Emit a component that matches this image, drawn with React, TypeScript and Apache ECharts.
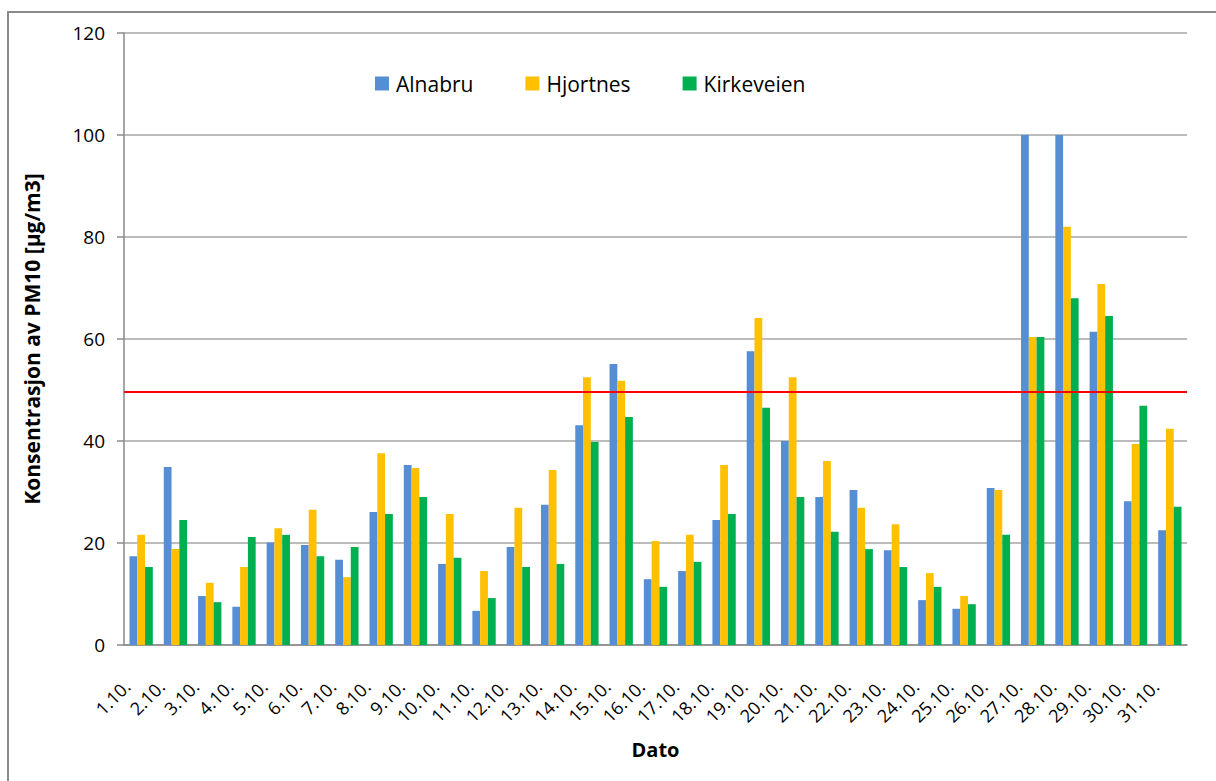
import React, { useEffect, useRef } from "react";
import * as echarts from "echarts";

const categories = [
  "1.10.", "2.10.", "3.10.", "4.10.", "5.10.", "6.10.", "7.10.", "8.10.", "9.10.", "10.10.",
  "11.10.", "12.10.", "13.10.", "14.10.", "15.10.", "16.10.", "17.10.", "18.10.", "19.10.", "20.10.",
  "21.10.", "22.10.", "23.10.", "24.10.", "25.10.", "26.10.", "27.10.", "28.10.", "29.10.", "30.10.", "31.10.",
];

const alnabru = [
  17.4, 34.9, 9.6, 7.5, 20.1, 19.6, 16.7, 26.1, 35.3, 15.9,
  6.7, 19.2, 27.5, 43.1, 55.1, 12.9, 14.5, 24.5, 57.6, 40.0,
  29.0, 30.4, 18.6, 8.8, 7.1, 30.8, 100, 100, 61.4, 28.2, 22.5,
];

const hjortnes = [
  21.6, 18.8, 12.2, 15.3, 22.9, 26.5, 13.3, 37.6, 34.7, 25.7,
  14.5, 26.9, 34.3, 52.5, 51.8, 20.4, 21.6, 35.3, 64.1, 52.5,
  36.1, 26.9, 23.7, 14.1, 9.6, 30.4, 60.4, 82.0, 70.8, 39.4, 42.4,
];

const kirkeveien = [
  15.3, 24.5, 8.4, 21.2, 21.6, 17.4, 19.2, 25.7, 29.0, 17.1,
  9.2, 15.3, 15.9, 39.8, 44.7, 11.4, 16.3, 25.7, 46.5, 29.0,
  22.2, 18.8, 15.3, 11.4, 8.0, 21.6, 60.4, 68.0, 64.5, 46.9, 27.1,
];

const limitValue = 49.6;

const yTicks = { min: 0, max: 120, interval: 20 };

const FONT = "Open Sans";

export default function App() {
  const ref = useRef<HTMLDivElement>(null);

  useEffect(() => {
    if (!ref.current) return;
    const chart = echarts.init(ref.current, undefined, { renderer: "svg" });
    const barBase = {
      type: "bar" as const,
      barGap: "0%",
      barCategoryGap: "32%",
    };
    chart.setOption({
      animation: false,
      backgroundColor: "#ffffff",
      textStyle: { fontFamily: FONT },
      graphic: [
        {
          type: "rect",
          shape: { x: 8, y: 12, width: 1400, height: 1000 },
          style: { fill: "none", stroke: "#8a8a8a", lineWidth: 2 },
          silent: true,
        },
      ],
      legend: {
        left: 375,
        top: 73,
        padding: 0,
        itemWidth: 14,
        itemHeight: 14,
        itemGap: 52,
        icon: "rect",
        textStyle: { fontFamily: FONT, fontSize: 21, color: "#000", padding: [0, 0, 0, 2] },
        data: ["Alnabru", "Hjortnes", "Kirkeveien"],
      },
      grid: { left: 124, top: 33, right: 29, bottom: 136, containLabel: false },
      xAxis: {
        type: "category",
        data: categories,
        name: "Dato",
        nameLocation: "middle",
        nameGap: 94,
        nameTextStyle: { fontFamily: FONT, fontSize: 20, fontWeight: "bold", color: "#000" },
        axisLine: { show: true, lineStyle: { color: "#8a8a8a", width: 1.5 } },
        axisTick: { show: false },
        axisLabel: {
          interval: 0,
          rotate: 45,
          margin: 24,
          fontFamily: FONT,
          fontSize: 18,
          color: "#000",
          padding: [0, 20, 0, 0],
        },
      },
      yAxis: {
        type: "value",
        min: yTicks.min,
        max: yTicks.max,
        interval: yTicks.interval,
        name: "Konsentrasjon av PM10 [µg/m3]",
        nameLocation: "middle",
        nameRotate: 90,
        nameGap: 82,
        nameTextStyle: { fontFamily: FONT, fontSize: 21, fontWeight: "bold", color: "#000" },
        axisLine: { show: true, lineStyle: { color: "#8a8a8a", width: 1.5 } },
        axisTick: { show: true, inside: false, length: 7, lineStyle: { color: "#8a8a8a", width: 1.5 } },
        axisLabel: { margin: 19, fontFamily: FONT, fontSize: 19, color: "#000" },
        splitLine: { show: true, lineStyle: { color: "#a6a6a6", width: 1.5 } },
      },
      series: [
        {
          ...barBase,
          name: "Alnabru",
          data: alnabru,
          itemStyle: { color: "#558ED5" },
        },
        {
          ...barBase,
          name: "Hjortnes",
          data: hjortnes,
          itemStyle: { color: "#FFC000" },
        },
        {
          ...barBase,
          name: "Kirkeveien",
          data: kirkeveien,
          itemStyle: { color: "#00B050" },
          markLine: {
            silent: true,
            symbol: ["none", "none"],
            label: { show: false },
            lineStyle: { color: "#FF0000", width: 2, type: "solid" },
            data: [{ yAxis: limitValue }],
          },
        },
      ],
    });
    return () => chart.dispose();
  }, []);

  return (
    <div
      style={{
        position: "fixed",
        left: 0,
        top: 0,
        width: 1216,
        height: 781,
        overflow: "hidden",
        background: "#fff",
      }}
    >
      <div ref={ref} style={{ width: 1216, height: 781 }} />
    </div>
  );
}
